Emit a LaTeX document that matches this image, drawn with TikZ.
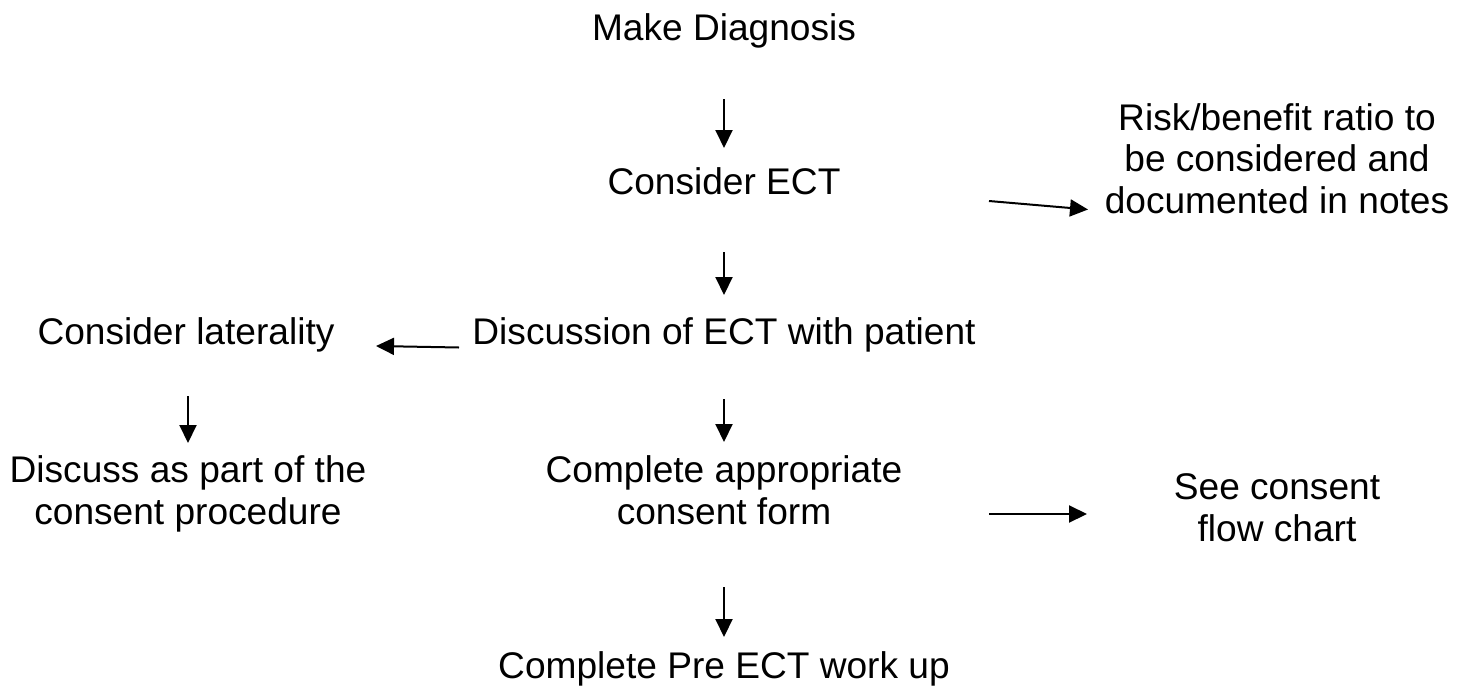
\documentclass[tikz,border=0pt]{standalone}
\usepackage{fontspec}
\setmainfont{Liberation Sans}
\usetikzlibrary{arrows.meta}
\tikzset{
  lbl/.style={inner sep=0pt, outer sep=0pt, align=center,
    font=\fontsize{37.1}{41.5}\selectfont},
  arr/.style={line width=2pt, -{Triangle[length=18pt,width=17pt]}}
}
\begin{document}
\begin{tikzpicture}[x=1pt,y=-1pt]
\useasboundingbox[fill=white] (0,0) rectangle (1469,691);
% nodes
\node[lbl] (mk)  at (724,31.7)  {\strut Make Diagnosis};
\node[lbl] (ce)  at (724,185.7) {\strut Consider ECT};
\node[lbl] (rb)  at (1277,163.2) {\strut Risk/benefit ratio to\\\strut be considered and\\\strut documented in notes};
\node[lbl] (cl)  at (186,335.7) {\strut Consider laterality};
\node[lbl] (dp)  at (724,335.7) {\strut Discussion of ECT with patient};
\node[lbl] (dap) at (188,495.2) {\strut Discuss as part of the\\\strut consent procedure};
\node[lbl] (caf) at (724,495.2) {\strut Complete appropriate\\\strut consent form};
\node[lbl] (scf) at (1277,512.2) {\strut See consent\\\strut flow chart};
\node[lbl] (pre) at (724,669.7) {\strut Complete Pre ECT work up};
% arrow end points
\coordinate (mk-ce-a) at (724,99);   \coordinate (mk-ce-b) at (724,148);
\coordinate (ce-dp-a) at (724,252);  \coordinate (ce-dp-b) at (724,295);
\coordinate (ce-rb-a) at (989,201);  \coordinate (ce-rb-b) at (1088,209.5);
\coordinate (dp-cl-a) at (459,347.5);\coordinate (dp-cl-b) at (376,346);
\coordinate (cl-dap-a) at (188,396); \coordinate (cl-dap-b) at (188,443);
\coordinate (dp-caf-a) at (724,399); \coordinate (dp-caf-b) at (724,442);
\coordinate (caf-scf-a) at (989,514);\coordinate (caf-scf-b) at (1087,514);
\coordinate (caf-pre-a) at (724,587);\coordinate (caf-pre-b) at (724,637);
% connectors
\draw[arr] (mk-ce-a) -- (mk-ce-b);
\draw[arr] (ce-dp-a) -- (ce-dp-b);
\draw[arr] (ce-rb-a) -- (ce-rb-b);
\draw[arr] (dp-cl-a) -- (dp-cl-b);
\draw[arr] (cl-dap-a) -- (cl-dap-b);
\draw[arr] (dp-caf-a) -- (dp-caf-b);
\draw[arr] (caf-scf-a) -- (caf-scf-b);
\draw[arr] (caf-pre-a) -- (caf-pre-b);
\end{tikzpicture}
\end{document}
